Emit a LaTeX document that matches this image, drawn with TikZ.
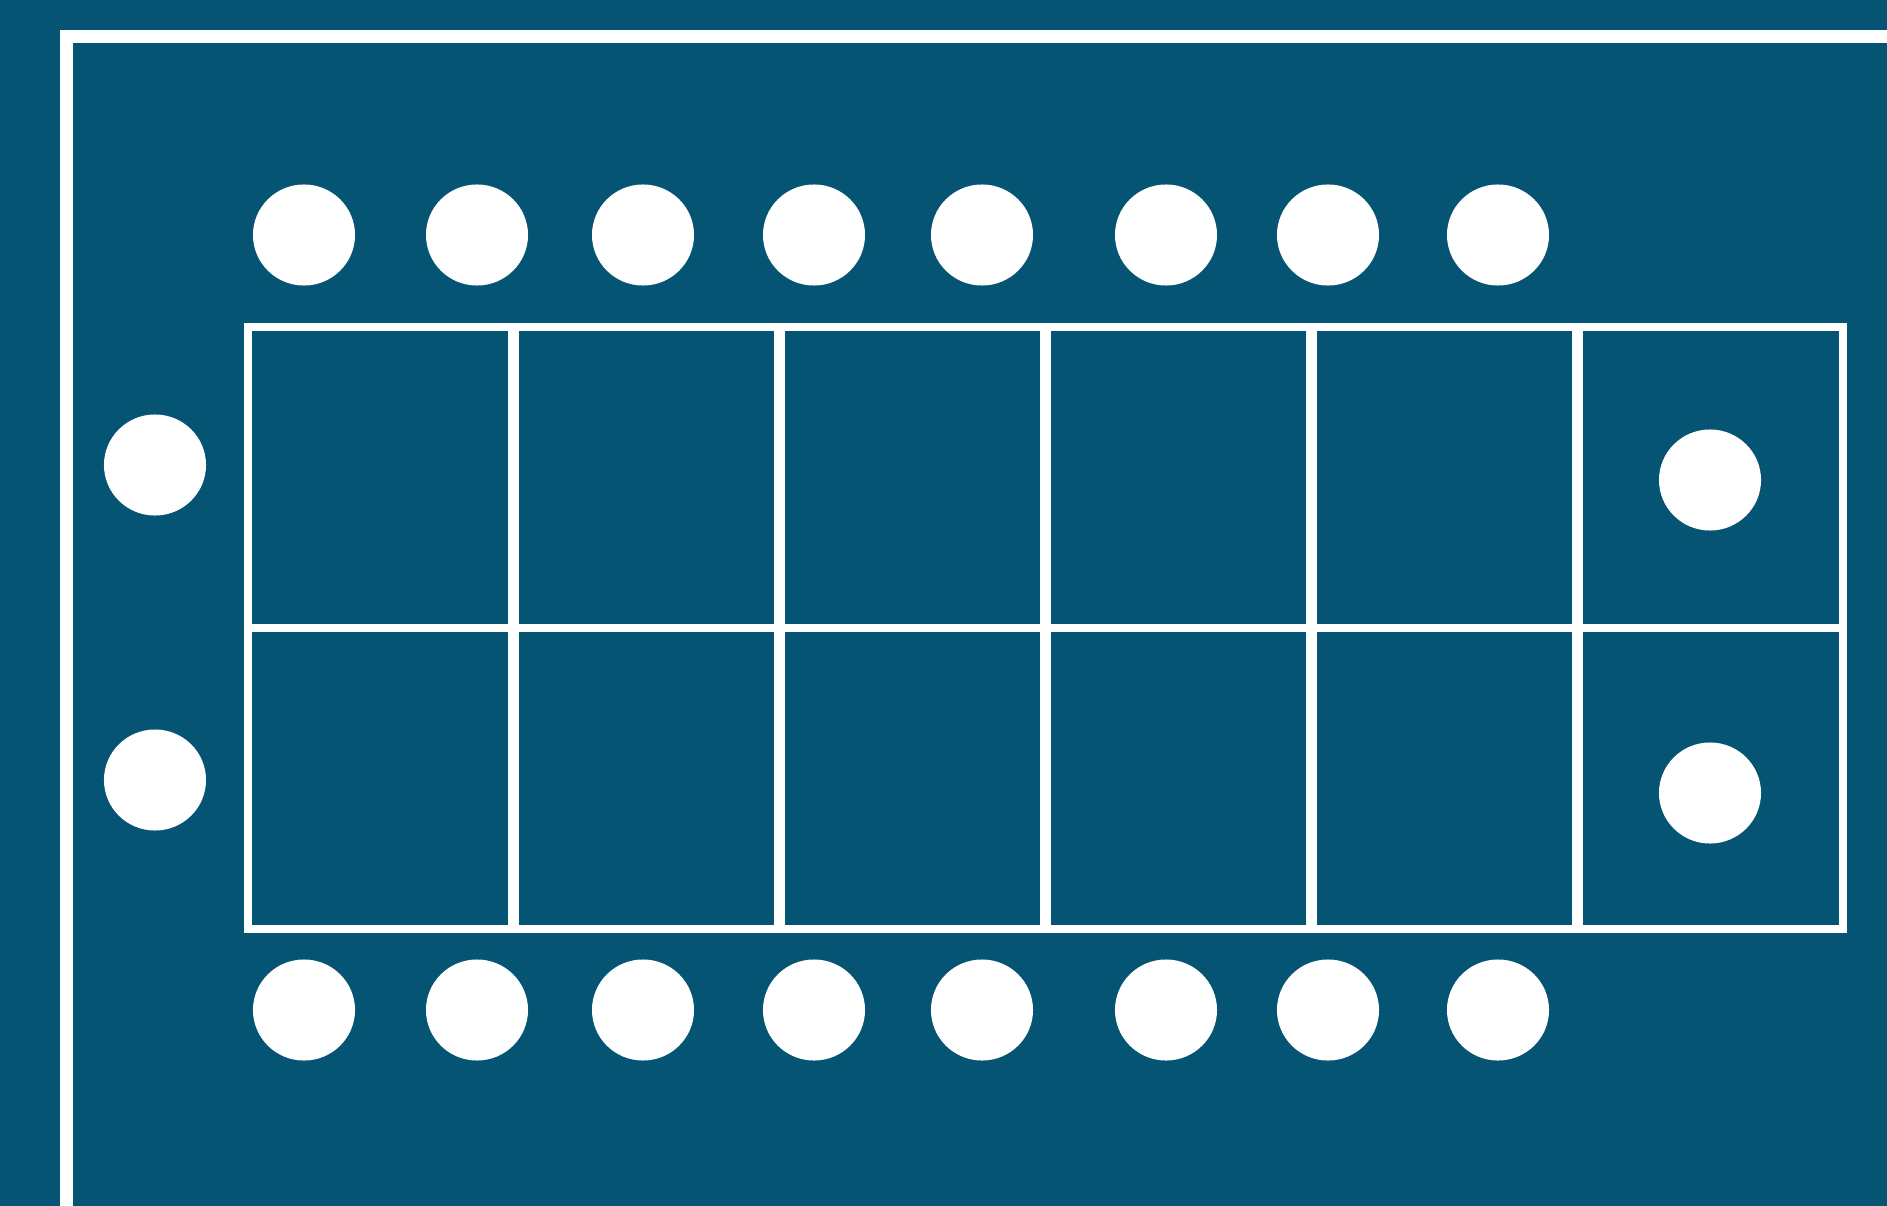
\documentclass[tikz,border=0pt]{standalone}
\usepackage{xcolor}
\usepackage{tikz}
\definecolor{tablebg}{RGB}{5,84,115}

\begin{document}
\begin{tikzpicture}[
    x=0.01cm, y=-0.01cm,
    frameline/.style={draw=white, line width=0.13cm},
    gridline/.style={draw=white, line width=0.08cm},
    divline/.style={draw=white, line width=0.105cm},
    seat/.style={fill=white},
]

% Background
\fill[tablebg] (0,0) rectangle (1887,1206);
\useasboundingbox (0,0) rectangle (1887,1206);
\clip (0,0) rectangle (1887,1206);

% Outer frame (runs off the right and bottom edges)
\draw[frameline] (1950,36.5) -- (66.5,36.5) -- (66.5,1260);

% Table: 6 x 2 cells
\draw[gridline] (248,327) rectangle (1843,929);
\draw[gridline] (248,627.5) -- (1843,627.5);
\foreach \x in {513.5,779.5,1045.5,1311.5,1577.5}
    \draw[divline] (\x,327) -- (\x,929);

% Seats above and below
\foreach \x in {304,477,643,814,982,1166,1328,1498} {
    \fill[seat] (\x,235) ellipse [x radius=0.51cm, y radius=0.505cm];
    \fill[seat] (\x,1010) ellipse [x radius=0.51cm, y radius=0.505cm];
}

% Seats at the ends
\fill[seat] (155,465) ellipse [x radius=0.51cm, y radius=0.505cm];
\fill[seat] (155,780) ellipse [x radius=0.51cm, y radius=0.505cm];
\fill[seat] (1710,480) ellipse [x radius=0.51cm, y radius=0.505cm];
\fill[seat] (1710,793) ellipse [x radius=0.51cm, y radius=0.505cm];

\end{tikzpicture}
\end{document}
